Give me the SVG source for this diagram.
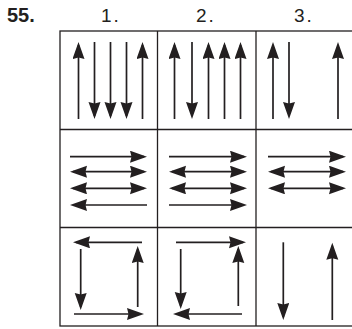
<svg xmlns="http://www.w3.org/2000/svg" width="352" height="329" viewBox="0 0 352 329">
<style>
.grid{fill:none;stroke:#231f20;stroke-width:1.3}
.a{fill:none;stroke:#231f20;stroke-width:1.7}
.e{marker-end:url(#ah)}
.s{marker-start:url(#ah)}
.lbl{font-family:"Liberation Sans",Arial,sans-serif;font-size:19px;fill:#231f20}
.num{font-weight:bold;font-size:20px}
</style>
<defs>
<marker id="ah" markerUnits="userSpaceOnUse" markerWidth="22" markerHeight="16" refX="14" refY="6" orient="auto-start-reverse">
<path d="M0,0 L17,6 L0,12 L1.5,6 Z" fill="#231f20"/>
</marker>
</defs>
<rect width="352" height="329" fill="#fff"/>
<g id="labels">
<text class="lbl num" x="7" y="22">55.</text>
<text class="lbl" x="101" y="22" letter-spacing="2">1.</text>
<text class="lbl" x="196" y="22" letter-spacing="2">2.</text>
<text class="lbl" x="294" y="22" letter-spacing="2">3.</text>
</g>
<g id="grid">
<rect class="grid" x="60" y="31" width="294" height="295"/>
<line class="grid" x1="157.5" y1="31" x2="157.5" y2="326"/>
<line class="grid" x1="256" y1="31" x2="256" y2="326"/>
<line class="grid" x1="60" y1="129.5" x2="354" y2="129.5"/>
<line class="grid" x1="60" y1="227.5" x2="354" y2="227.5"/>
</g>
<g id="connectors">
<line class="a e" x1="78.5" y1="119" x2="78.5" y2="45"/>
<line class="a e" x1="94.5" y1="42" x2="94.5" y2="116"/>
<line class="a e" x1="110.5" y1="42" x2="110.5" y2="116"/>
<line class="a e" x1="126.5" y1="42" x2="126.5" y2="116"/>
<line class="a e" x1="142.5" y1="119" x2="142.5" y2="45"/>
<line class="a e" x1="174.5" y1="119" x2="174.5" y2="45"/>
<line class="a e" x1="192" y1="42" x2="192" y2="116"/>
<line class="a e" x1="208.5" y1="119" x2="208.5" y2="45"/>
<line class="a e" x1="224.5" y1="119" x2="224.5" y2="45"/>
<line class="a e" x1="240.5" y1="119" x2="240.5" y2="45"/>
<line class="a e" x1="273" y1="119" x2="273" y2="45"/>
<line class="a e" x1="289" y1="42" x2="289" y2="116"/>
<line class="a e" x1="338" y1="119" x2="338" y2="45"/>
<line class="a e" x1="70" y1="156.7" x2="144" y2="156.7"/>
<line class="a s e" x1="73" y1="171.7" x2="144" y2="171.7"/>
<line class="a s e" x1="73" y1="188.3" x2="144" y2="188.3"/>
<line class="a s" x1="73" y1="205" x2="147" y2="205"/>
<line class="a e" x1="169" y1="156.7" x2="244" y2="156.7"/>
<line class="a s e" x1="172" y1="171.7" x2="244" y2="171.7"/>
<line class="a s e" x1="172" y1="188.3" x2="244" y2="188.3"/>
<line class="a e" x1="169" y1="205" x2="244" y2="205"/>
<line class="a e" x1="268" y1="156.7" x2="343" y2="156.7"/>
<line class="a s e" x1="271" y1="171.7" x2="343" y2="171.7"/>
<line class="a s e" x1="271" y1="188.3" x2="343" y2="188.3"/>
<line class="a e" x1="142" y1="242.3" x2="76" y2="242.3"/>
<line class="a e" x1="80.7" y1="249" x2="80.7" y2="307"/>
<line class="a e" x1="74" y1="314" x2="141" y2="314"/>
<line class="a e" x1="137.7" y1="307" x2="137.7" y2="249"/>
<line class="a e" x1="176" y1="242.3" x2="243" y2="242.3"/>
<line class="a e" x1="180.7" y1="249" x2="180.7" y2="306"/>
<line class="a e" x1="242" y1="314" x2="176" y2="314"/>
<line class="a e" x1="238.3" y1="306" x2="238.3" y2="249"/>
<line class="a e" x1="283.3" y1="242.3" x2="283.3" y2="317"/>
<line class="a e" x1="332.3" y1="320" x2="332.3" y2="245.7"/>
</g>
</svg>
